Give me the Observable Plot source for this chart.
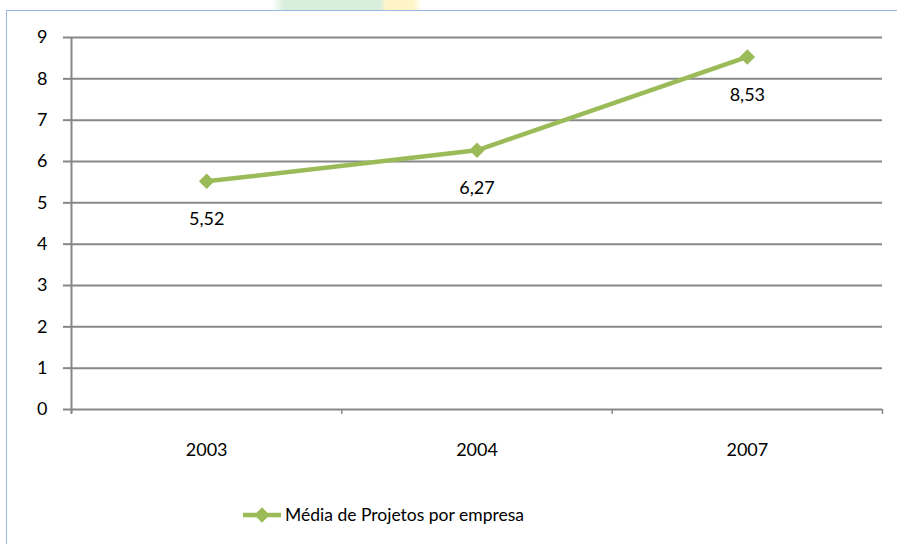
<!DOCTYPE html>
<html><head><meta charset="utf-8">
<script src="https://cdn.jsdelivr.net/npm/d3@7"></script>
<script src="https://cdn.jsdelivr.net/npm/@observablehq/plot@0.6"></script>
<style>
body{margin:0;background:#fff;width:897px;height:544px;overflow:hidden;position:relative;font-family:Lato,sans-serif;}
#wm{position:absolute;left:272px;top:0;width:150px;height:10px;background:linear-gradient(90deg, rgba(214,236,216,0) 0%, #d9eedb 8%, #d9eedb 72%, #fff4c8 76%, #fff4c8 94%, rgba(255,244,200,0) 100%);}
#frame{position:absolute;left:6px;top:10px;width:920px;height:600px;border:1px solid #9ab7e4;box-sizing:border-box;}
#chart{position:absolute;left:0;top:0;}
#legend{position:absolute;top:504px;left:243px;display:flex;align-items:center;font-size:17.5px;color:#000;}
#legend span{margin-left:4px;}
</style></head><body>
<div id="wm"></div>
<div id="frame"></div>
<div id="chart"></div>
<div id="legend"></div>
<script>
const years = ["2003", "2004", "2007"];
const values = [5.52, 6.27, 8.53];
const yTicks = [0, 1, 2, 3, 4, 5, 6, 7, 8, 9];
const seriesName = "Média de Projetos por empresa";

const green = "#9bbb59";
const grid = "#878787";
const data = years.map((y, i) => ({year: y, idx: i + 0.5, value: values[i]}));
const fmt = v => v.toFixed(2).replace(".", ",");

const chart = Plot.plot({
  width: 897,
  height: 480,
  marginLeft: 71,
  marginRight: 15,
  marginTop: 37,
  marginBottom: 71,
  style: {fontFamily: "Lato, sans-serif", fontSize: "18px", color: "#000", background: "transparent", overflow: "visible"},
  x: {type: "linear", domain: [0, 3], axis: null},
  y: {domain: [0, 9], axis: null},
  marks: [
    Plot.ruleY(yTicks, {stroke: grid, strokeWidth: 2}),
    Plot.axisY({ticks: yTicks, tickSize: 8, stroke: grid, strokeWidth: 2, tickPadding: 16, fontSize: 18, color: "#000", label: null}),
    Plot.axisX({ticks: [0, 1, 2, 3], tickFormat: () => "", tickSize: 5, stroke: grid, strokeWidth: 1.5, label: null}),
    Plot.axisX({ticks: data.map(d => d.idx), tickFormat: v => years[Math.round(v - 0.5)], tickSize: 0, tickPadding: 34, fontSize: 18, label: null}),
    Plot.ruleX([0], {y1: -0.1, y2: 9, stroke: grid, strokeWidth: 2}),
    Plot.line(data, {x: "idx", y: "value", stroke: green, strokeWidth: 4.5}),
    Plot.dot(data, {x: "idx", y: "value", symbol: "diamond2", r: 7, fill: green, stroke: "none"}),
    Plot.text(data, {x: "idx", y: "value", text: d => fmt(d.value), dy: 38, fontSize: 18, fill: "#000"})
  ]
});
document.getElementById("chart").appendChild(chart);

// legend
const leg = document.getElementById("legend");
const ls = d3.create("svg").attr("width", 38).attr("height", 20);
ls.append("line").attr("x1", 0).attr("x2", 38).attr("y1", 10).attr("y2", 10).attr("stroke", green).attr("stroke-width", 4.5);
ls.append("path").attr("d", d3.symbol(d3.symbolDiamond2, 150)()).attr("transform", "translate(19,10)").attr("fill", green);
leg.appendChild(ls.node());
const sp = document.createElement("span");
sp.textContent = seriesName;
leg.appendChild(sp);
</script>
</body></html>
